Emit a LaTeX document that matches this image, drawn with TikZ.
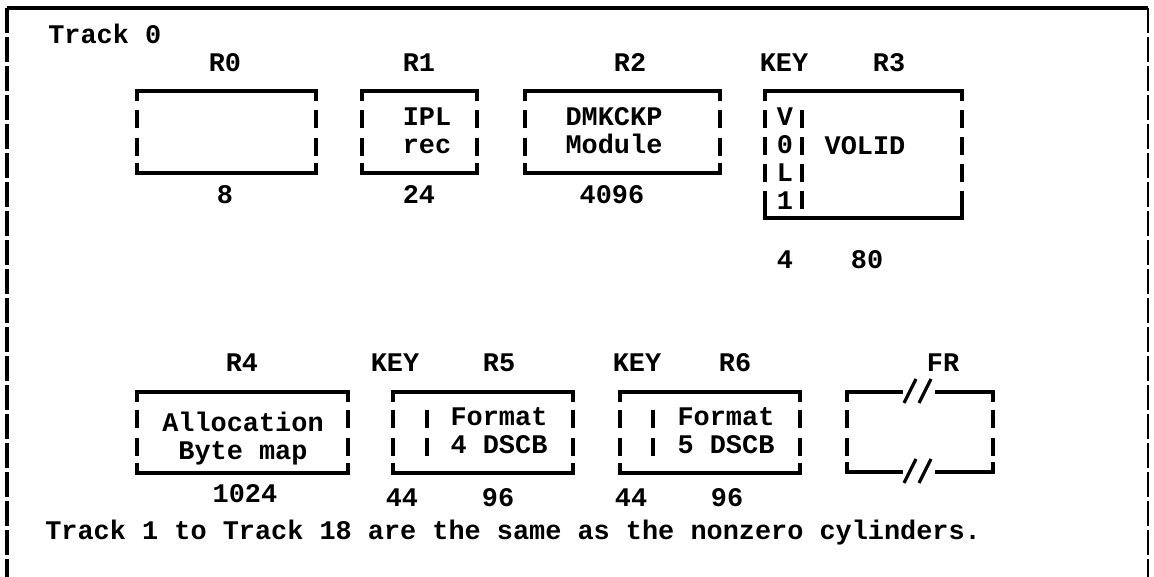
\documentclass[tikz,border=0pt]{standalone}
\usepackage{fontspec}
\setmonofont{Liberation Mono}
\usetikzlibrary{positioning}

\tikzset{
  hline/.style={line width=1.8pt},
  frame/.style={line width=1.8pt,dash pattern=on 0.5cm off 0.08cm},
  lbl/.style={font=\ttfamily\bfseries\fontsize{15.3}{15.9}\selectfont,inner sep=0pt,align=center},
}
% record box: x1,y1,x2,y2 (pixel units), then the rows that get a side bar
\newcommand{\trkbox}[5]{%
  \draw[hline] (#1,#2+10) |- (#3,#2) -- (#3,#2+10);
  \draw[hline] (#1,#4-10) |- (#3,#4) -- (#3,#4-10);
  \foreach \r in {#5}
    \draw[hline] (#1,\r-9) -- (#1,\r+9) (#3,\r-9) -- (#3,\r+9);
}
% key separator bars: x, rows
\newcommand{\keybar}[2]{%
  \foreach \r in {#2}
    \draw[hline] (#1,\r-9) -- (#1,\r+9);
}

\begin{document}
\begin{tikzpicture}[x=0.02cm,y=-0.02cm]
  \useasboundingbox (0,0) rectangle (1154,577);
  % outer frame
  \coordinate (TL) at (7,8);
  \coordinate (TR) at (1148,8);
  \coordinate (BL) at (7,577);
  \coordinate (BR) at (1148,577);
  \draw[hline] (TL) -- (TR);
  \draw[frame] (TL) -- (BL);
  \draw[frame,line width=1pt] (TR) -- (BR);

  \node[lbl,anchor=west] (trk0) at (48,34) {Track 0};

  % track 0, upper row
  \node[lbl] (r0) at (225,63) {R0};
  \trkbox{137}{91}{316}{173}{119,147}
  \node[lbl] (r0len) at (225,195) {8};

  \node[lbl] (r1) at (419,63) {R1};
  \trkbox{362}{91}{477}{173}{119,147}
  \node[lbl] (ipl) at (427,131) {IPL\\rec};
  \node[lbl] (r1len) at (419,195) {24};

  \node[lbl] (r2) at (630,63) {R2};
  \trkbox{525}{91}{720}{173}{119,147}
  \node[lbl] (dmk) at (614,131) {DMKCKP\\Module};
  \node[lbl] (r2len) at (612,195) {4096};

  \node[lbl] (key3) at (784,63) {KEY};
  \node[lbl] (r3) at (889,63) {R3};
  \trkbox{765}{91}{962}{218}{119,146,173,200}
  \keybar{802}{119,146,173,200}
  \node[lbl] (vol1) at (785,159) {V\\0\\L\\1};
  \node[lbl] (volid) at (865,146) {VOLID};
  \node[lbl] (k3len) at (785,260) {4};
  \node[lbl] (r3len) at (867,260) {80};

  % track 0, lower row
  \node[lbl] (r4) at (242,363) {R4};
  \trkbox{137}{392}{348}{473}{419,447}
  \node[lbl] (alloc) at (243,439) {Allocation\\Byte map};
  \node[lbl] (r4len) at (245,494) {1024};

  \node[lbl] (key5) at (395,363) {KEY};
  \node[lbl] (r5) at (499,363) {R5};
  \trkbox{393}{392}{573}{473}{419,447}
  \keybar{427}{419,447}
  \node[lbl] (fmt4) at (499,431) {Format\\4 DSCB};
  \node[lbl] (k5len) at (402,498) {44};
  \node[lbl] (r5len) at (498,498) {96};

  \node[lbl] (key6) at (637,363) {KEY};
  \node[lbl] (r6) at (735,363) {R6};
  \trkbox{620}{392}{800}{473}{419,447}
  \keybar{653}{419,447}
  \node[lbl] (fmt5) at (726,431) {Format\\5 DSCB};
  \node[lbl] (k6len) at (631,498) {44};
  \node[lbl] (r6len) at (727,498) {96};

  \node[lbl] (fr) at (943,363) {FR};
  \draw[hline] (847,402) |- (903,392) (935,392) -| (993,402);
  \draw[hline] (847,462) |- (903,472) (935,472) -| (993,462);
  \keybar{847}{419,447}
  \keybar{993}{419,447}
  \foreach \y in {392,472}
    \draw[hline] (904,\y+11) -- (916,\y-13) (919,\y+11) -- (931,\y-13);

  \node[lbl,anchor=west] (note) at (45,533)
    {Track 1 to Track 18 are the same as the nonzero cylinders.};
\end{tikzpicture}
\end{document}
